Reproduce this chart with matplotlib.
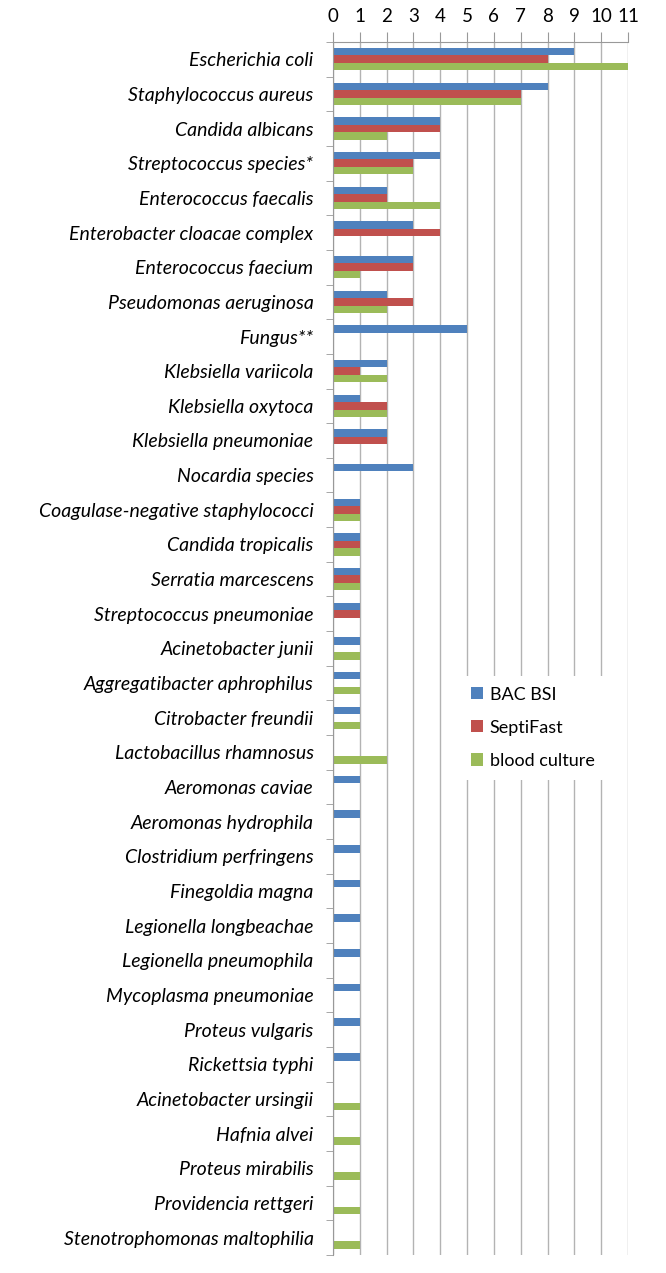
import numpy as np
import matplotlib.pyplot as plt
from matplotlib.ticker import FixedLocator

# organisms, top to bottom
species = [
    'Escherichia coli', 'Staphylococcus aureus', 'Candida albicans',
    'Streptococcus species*', 'Enterococcus faecalis', 'Enterobacter cloacae complex',
    'Enterococcus faecium', 'Pseudomonas aeruginosa', 'Fungus**',
    'Klebsiella variicola', 'Klebsiella oxytoca', 'Klebsiella pneumoniae',
    'Nocardia species', 'Coagulase-negative staphylococci', 'Candida tropicalis',
    'Serratia marcescens', 'Streptococcus pneumoniae', 'Acinetobacter junii',
    'Aggregatibacter aphrophilus', 'Citrobacter freundii', 'Lactobacillus rhamnosus',
    'Aeromonas caviae', 'Aeromonas hydrophila', 'Clostridium perfringens',
    'Finegoldia magna', 'Legionella longbeachae', 'Legionella pneumophila',
    'Mycoplasma pneumoniae', 'Proteus vulgaris', 'Rickettsia typhi',
    'Acinetobacter ursingii', 'Hafnia alvei', 'Proteus mirabilis',
    'Providencia rettgeri', 'Stenotrophomonas maltophilia',
]
bac_bsi = [9, 8, 4, 4, 2, 3, 3, 2, 5, 2, 1, 2, 3, 1, 1, 1, 1, 1, 1, 1, 0,
           1, 1, 1, 1, 1, 1, 1, 1, 1, 0, 0, 0, 0, 0]
septifast = [8, 7, 4, 3, 2, 4, 3, 3, 0, 1, 2, 2, 0, 1, 1, 1, 1, 0, 0, 0, 0,
             0, 0, 0, 0, 0, 0, 0, 0, 0, 0, 0, 0, 0, 0]
blood_culture = [11, 7, 2, 3, 4, 0, 1, 2, 0, 2, 2, 0, 0, 1, 1, 1, 0, 1, 1, 1, 2,
                 0, 0, 0, 0, 0, 0, 0, 0, 0, 1, 1, 1, 1, 1]

series = [('BAC BSI', bac_bsi, '#4F81BD'),
          ('SeptiFast', septifast, '#C0504D'),
          ('blood culture', blood_culture, '#9BBB59')]

plt.rcParams['font.family'] = ['Lato', 'DejaVu Sans']

fig = plt.figure(figsize=(6.66, 12.73), dpi=100)
ax = fig.add_axes([0.5, 0.0141, 0.443, 0.953])

y = np.arange(len(species))
h = 0.217
for i, (name, vals, col) in enumerate(series):
    ax.barh(y - h + i * h, vals, height=h, color=col, label=name, zorder=2)

ax.set_xlim(0, 11)
ax.set_ylim(len(species) - 0.5, -0.5)
ax.xaxis.tick_top()
ax.set_xticks(range(12))
ax.tick_params(axis='x', labelsize=13.5, length=7, color='#999999', pad=5)
ax.grid(axis='x', color='#b3b3b3', lw=1, zorder=0)

ax.set_yticks(y)
ax.set_yticklabels(species, fontstyle='italic', fontsize=14)
ax.tick_params(axis='y', which='major', length=0, pad=14)
ax.yaxis.set_minor_locator(FixedLocator(np.arange(-0.5, len(species), 1)))
ax.tick_params(axis='y', which='minor', length=5, color='#999999')

for s in ['right', 'bottom']:
    ax.spines[s].set_visible(False)
for s in ['left', 'top']:
    ax.spines[s].set_color('#999999')

leg = ax.legend(loc='upper left', bbox_to_anchor=(0.40, 0.485), frameon=True,
                fontsize=13, handlelength=0.65, handleheight=0.65,
                labelspacing=0.95, borderpad=0.6, handletextpad=0.4)
leg.get_frame().set_edgecolor('none')
leg.get_frame().set_facecolor('white')
leg.get_frame().set_alpha(1)

fig.savefig('out.png', dpi=100)
